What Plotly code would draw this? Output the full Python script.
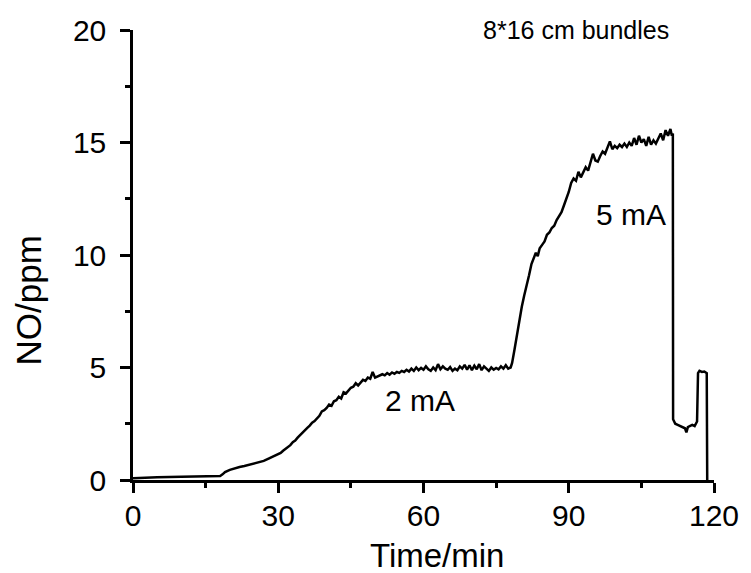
import plotly.graph_objects as go

# NO concentration trace (time in minutes, NO in ppm)
time_min = [
    0, 2, 5, 10, 15, 18, 18.5, 19, 20, 21, 22, 23, 24, 25, 26, 27, 28, 29,
    30, 30.5, 31, 31.5, 32, 32.5, 33, 33.5, 34, 34.5, 35, 35.5, 36, 36.5, 37, 37.5,
    38, 38.5, 39, 39.5, 40, 40.5, 41, 41.5, 42, 42.5, 43, 43.5, 44, 44.5, 45, 45.5,
    46, 46.5, 47, 47.5, 48, 48.5, 49, 49.5, 50, 50.5,
    51, 51.5, 52, 52.5, 53, 53.5, 54, 54.5, 55, 55.5, 56, 56.5, 57, 57.5, 58, 58.5,
    59, 59.5, 60, 60.5, 61, 61.5, 62, 62.5, 63, 63.5, 64, 64.5, 65, 65.5, 66, 66.5,
    67, 67.5, 68, 68.5, 69, 69.5, 70, 70.5, 71, 71.5, 72, 72.5, 73, 73.5, 74, 74.5,
    75, 75.5, 76, 76.5, 77, 77.5, 78, 78.3,
    78.8, 79.3, 79.8, 80.3, 80.8, 81.3, 81.8, 82.3, 82.8, 83.2, 83.6, 84, 84.5, 85,
    85.5, 86, 86.5, 87, 87.5, 88, 88.5, 89, 89.5, 90, 90.5, 91, 91.5, 92, 92.5, 93,
    93.5, 94, 94.5, 95, 95.5, 96, 96.5, 97, 97.5, 98, 98.5, 99, 99.5, 100, 100.5,
    101, 101.5, 102, 102.5, 103, 103.5, 104, 104.5, 105, 105.5, 106, 106.5, 107,
    107.5, 108, 108.5, 109, 109.5, 110, 110.5, 111, 111.3, 111.5,
    111.55, 112, 112.5, 113, 113.5, 114, 114.3, 114.6, 115, 115.5, 116, 116.5,
    116.7, 117, 117.5, 118, 118.5, 118.6,
]
no_ppm = [
    0.08, 0.1, 0.12, 0.14, 0.16, 0.18, 0.25, 0.35, 0.45, 0.52, 0.58, 0.62, 0.68, 0.72, 0.78, 0.85, 0.95, 1.05,
    1.12, 1.2, 1.3, 1.38, 1.48, 1.55, 1.68, 1.75, 1.88, 2.0, 2.1, 2.2, 2.32, 2.42, 2.55, 2.62,
    2.75, 2.85, 3.05, 3.1, 3.2, 3.35, 3.3, 3.5, 3.55, 3.7, 3.62, 3.9, 3.85, 4.0, 4.1, 4.15,
    4.3, 4.2, 4.35, 4.45, 4.4, 4.55, 4.5, 4.8, 4.55, 4.6,
    4.62, 4.7, 4.65, 4.75, 4.68, 4.78, 4.72, 4.8, 4.76, 4.85, 4.8, 4.9, 4.82, 4.95, 4.85, 5.0,
    4.88, 4.98, 4.9, 5.05, 4.92, 4.85, 5.0, 4.88, 5.15, 4.92, 5.05, 4.95, 4.9, 5.02, 4.85, 4.95,
    4.88, 5.05, 4.95, 5.12, 4.9, 5.1, 4.88, 5.08, 4.92, 5.15, 4.88, 5.05, 4.95, 4.85, 5.0, 4.9,
    4.98, 4.92, 5.05, 4.95, 5.1, 4.95, 5.0, 5.2,
    5.8, 6.5, 7.1, 7.7, 8.2, 8.6, 9.1, 9.6, 9.9, 10.1, 9.95, 10.3, 10.45, 10.6,
    10.9, 11.0, 11.2, 11.3, 11.55, 11.7, 11.9, 12.2, 12.5, 12.8, 13.2, 13.4, 13.3, 13.7, 13.45, 13.7,
    13.9, 13.75, 14.1, 14.5, 14.2, 14.15, 14.4, 14.6, 14.5, 14.75, 15.05, 14.7, 14.85, 14.75, 14.9,
    14.8, 14.95, 14.8, 15.0, 14.85, 15.2, 14.9, 15.3, 15.0, 15.15, 14.85, 15.25, 14.9,
    15.1, 14.95, 15.2, 15.4, 15.1, 15.55, 15.3, 15.6, 15.3, 15.4,
    2.7, 2.5, 2.45, 2.4, 2.35, 2.3, 2.12, 2.35, 2.4, 2.45, 2.4, 2.6,
    4.75, 4.85, 4.8, 4.82, 4.75, 0.0,
]

# current labels placed next to the curve
label_text = ["2 mA", "5 mA"]
label_time = [59.3, 102.8]
label_no = [3.55, 11.8]

FONT = "Arial, Liberation Sans, sans-serif"

fig = go.Figure()
fig.add_trace(go.Scatter(
    x=time_min, y=no_ppm, mode="lines",
    line=dict(color="black", width=2.5),
    showlegend=False, hoverinfo="skip",
))

for txt, tx, ty in zip(label_text, label_time, label_no):
    fig.add_annotation(x=tx, y=ty, text=txt, showarrow=False,
                       font=dict(family=FONT, size=30, color="black"))

fig.add_annotation(xref="paper", yref="paper", x=0.763, y=1.0,
                   xanchor="center", yanchor="middle",
                   text="8*16 cm bundles", showarrow=False,
                   font=dict(family=FONT, size=25, color="black"))

# axis titles
fig.add_annotation(xref="paper", yref="paper", x=0.523, y=-0.168,
                   xanchor="center", yanchor="middle",
                   text="Time/min", showarrow=False,
                   font=dict(family=FONT, size=33, color="black"))
fig.add_annotation(xref="paper", yref="paper", x=-0.18, y=0.4,
                   xanchor="center", yanchor="middle",
                   text="NO/ppm", showarrow=False, textangle=-90,
                   font=dict(family=FONT, size=35, color="black"))

axis_common = dict(
    showgrid=False, zeroline=False, showline=True, linecolor="black", linewidth=2.5,
    ticks="outside", ticklen=10, tickwidth=2.5, tickcolor="black",
    tickfont=dict(family=FONT, size=30, color="black"),
    tickmode="linear", tick0=0,
)

fig.update_xaxes(range=[0, 120], dtick=30, ticklabelstandoff=-3,
                 minor=dict(ticks="outside", ticklen=5, tickwidth=2.5, tickcolor="black", dtick=15, tick0=0),
                 **axis_common)
fig.update_yaxes(range=[0, 20], dtick=5, ticklabelstandoff=8,
                 minor=dict(ticks="outside", ticklen=5, tickwidth=2.5, tickcolor="black", dtick=2.5, tick0=0),
                 **axis_common)

fig.update_layout(
    width=751, height=573,
    margin=dict(l=133, r=31, t=30, b=93),
    paper_bgcolor="white", plot_bgcolor="white",
    font=dict(family=FONT, color="black"),
)

fig.write_html("out.html")
